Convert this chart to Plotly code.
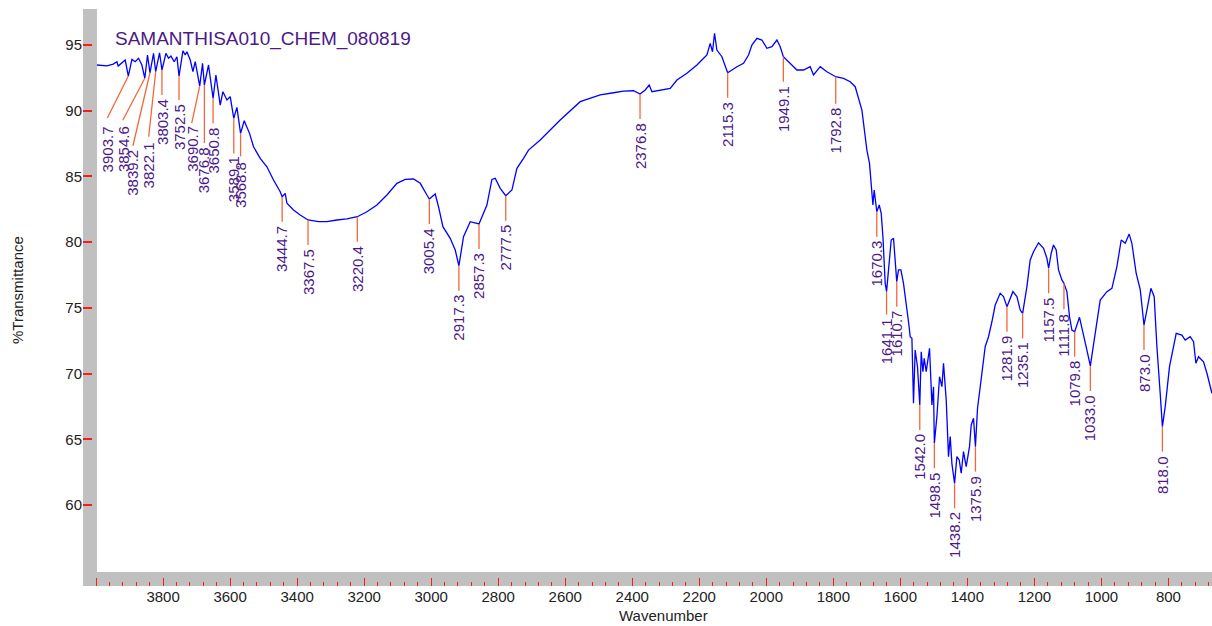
import plotly.graph_objects as go

# ---------------- data ----------------
wavenumber = [
    3997.4, 3967.6, 3948.8, 3937.8, 3933.9, 3913.0, 3903.7, 3893.0, 3883.2, 3873.3,
    3863.2, 3854.6, 3846.5, 3839.2, 3828.5, 3822.1, 3810.6, 3803.4, 3791.5, 3783.8,
    3776.6, 3766.8, 3758.7, 3752.5, 3740.8, 3733.9, 3728.9, 3719.0, 3711.0, 3704.1,
    3690.7, 3682.3, 3676.8, 3664.4, 3650.8, 3642.4, 3629.5, 3621.5, 3609.5, 3599.7,
    3589.1, 3579.7, 3568.8, 3557.9, 3542.1, 3530.1, 3510.2, 3490.2, 3470.5, 3450.5,
    3444.7, 3435.6, 3430.5, 3410.8, 3390.8, 3367.5, 3336.2, 3311.1, 3281.3, 3251.5,
    3220.4, 3191.8, 3161.9, 3132.1, 3102.3, 3077.5, 3052.7, 3032.7, 3012.7, 3005.4,
    2988.0, 2978.1, 2965.0, 2943.2, 2928.3, 2917.3, 2903.5, 2883.5, 2857.3, 2833.7,
    2818.8, 2808.9, 2794.0, 2777.5, 2759.1, 2744.2, 2724.5, 2709.5, 2674.6, 2615.0,
    2555.3, 2525.4, 2495.6, 2455.9, 2426.1, 2396.2, 2376.8, 2361.3, 2349.4, 2341.3,
    2316.5, 2286.7, 2266.7, 2236.9, 2207.0, 2177.2, 2167.4, 2160.5, 2154.5, 2147.4,
    2132.5, 2115.3, 2087.7, 2067.9, 2053.0, 2043.0, 2028.0, 2013.1, 1998.1, 1983.3,
    1968.3, 1958.5, 1949.1, 1933.7, 1908.7, 1889.0, 1869.0, 1859.1, 1839.1, 1819.1,
    1792.8, 1769.6, 1749.6, 1734.7, 1714.7, 1704.8, 1699.8, 1692.0, 1686.9, 1681.9,
    1678.0, 1672.9, 1670.3, 1663.0, 1657.1, 1652.0, 1648.1, 1645.2, 1641.1, 1632.3,
    1627.3, 1620.4, 1615.3, 1610.7, 1605.5, 1598.3, 1590.6, 1580.4, 1575.6, 1570.6,
    1565.5, 1560.7, 1555.8, 1548.8, 1542.0, 1537.7, 1532.7, 1528.8, 1522.8, 1512.9,
    1505.8, 1501.0, 1498.5, 1490.9, 1483.1, 1476.0, 1471.2, 1463.1, 1456.3, 1451.2,
    1446.2, 1438.2, 1431.3, 1424.3, 1418.4, 1411.5, 1403.5, 1393.6, 1388.5, 1381.6,
    1375.9, 1369.7, 1361.7, 1356.6, 1346.8, 1336.9, 1326.8, 1316.9, 1302.0, 1292.2,
    1281.9, 1264.1, 1252.1, 1242.3, 1235.1, 1222.3, 1212.5, 1202.6, 1187.7, 1172.7,
    1162.7, 1157.5, 1149.8, 1143.0, 1134.9, 1128.0, 1117.9, 1111.8, 1103.0, 1095.2,
    1088.1, 1079.8, 1065.4, 1053.5, 1043.3, 1033.0, 1018.5, 1003.6, 983.6, 968.7,
    953.8, 940.9, 929.0, 917.1, 909.1, 896.3, 884.0, 873.0, 862.3, 852.3,
    842.5, 834.4, 824.6, 818.0, 809.6, 796.8, 776.8, 759.8, 749.9, 735.0,
    725.1, 718.0, 710.2, 695.3, 685.1, 670.2,
]
transmittance = [
    93.48, 93.42, 93.55, 93.73, 93.40, 93.86, 92.64, 93.91, 93.73, 93.99,
    93.48, 92.47, 94.24, 92.89, 94.37, 92.97, 94.41, 93.10, 94.37, 93.99,
    94.16, 93.73, 94.11, 92.64, 94.56, 94.24, 94.49, 93.86, 92.97, 93.73,
    91.88, 93.61, 91.96, 93.48, 90.94, 92.72, 90.43, 91.45, 90.82, 91.07,
    89.42, 90.26, 88.28, 89.24, 88.28, 87.26, 86.38, 85.74, 84.73, 83.84,
    83.46, 83.72, 82.96, 82.45, 82.07, 81.69, 81.56, 81.56, 81.69, 81.77,
    81.94, 82.32, 82.83, 83.59, 84.48, 84.78, 84.81, 84.48, 83.59, 83.29,
    83.67, 82.70, 81.18, 80.30, 79.41, 78.21, 80.42, 81.56, 81.39, 82.83,
    84.78, 84.86, 84.10, 83.54, 83.97, 85.62, 86.38, 87.01, 87.77, 89.29,
    90.69, 90.94, 91.20, 91.37, 91.50, 91.52, 91.27, 91.58, 91.96, 91.45,
    91.58, 91.70, 92.34, 92.85, 93.48, 94.24, 95.13, 94.49, 95.89, 94.62,
    94.11, 92.89, 93.35, 93.61, 94.24, 95.00, 95.51, 95.38, 94.75, 94.87,
    95.38, 94.87, 94.11, 93.73, 93.10, 93.10, 93.35, 92.72, 93.35, 92.97,
    92.59, 92.46, 92.21, 91.83, 90.05, 88.02, 87.01, 86.00, 84.48, 82.83,
    83.97, 82.45, 82.32, 82.83, 82.20, 80.42, 78.65, 76.87, 76.24, 78.65,
    80.17, 80.30, 78.65, 77.00, 77.89, 77.89, 76.87, 75.10, 73.95, 72.81,
    72.69, 67.75, 71.80, 70.53, 67.62, 71.67, 70.15, 71.17, 70.15, 71.93,
    67.62, 69.01, 64.71, 66.73, 69.77, 69.01, 70.79, 68.00, 63.69, 65.21,
    63.18, 61.66, 63.69, 63.44, 62.43, 64.07, 62.93, 64.45, 66.10, 66.61,
    64.45, 67.37, 68.76, 70.03, 72.05, 72.81, 73.95, 75.22, 76.11, 75.86,
    75.10, 76.24, 75.86, 74.84, 74.59, 76.62, 78.65, 79.28, 79.96, 79.54,
    78.78, 78.02, 79.16, 79.79, 79.41, 77.89, 77.13, 76.87, 76.24, 74.34,
    73.32, 73.19, 74.29, 73.07, 71.80, 70.59, 73.07, 75.60, 76.24, 76.49,
    78.14, 80.17, 79.92, 80.62, 79.92, 77.64, 76.37, 73.70, 75.10, 76.49,
    75.86, 72.05, 68.51, 65.97, 67.49, 70.53, 73.07, 72.94, 72.56, 72.81,
    72.43, 70.79, 71.29, 70.91, 70.03, 68.51,
]

peak_wn = [3903.7, 3854.6, 3839.2, 3822.1, 3803.4, 3752.5, 3690.7, 3676.8, 3650.8,
           3589.1, 3568.8, 3444.7, 3367.5, 3220.4, 3005.4, 2917.3, 2857.3, 2777.5,
           2376.8, 2115.3, 1949.1, 1792.8, 1670.3, 1641.1, 1610.7, 1542.0, 1498.5,
           1438.2, 1375.9, 1281.9, 1235.1, 1157.5, 1111.8, 1079.8, 1033.0, 873.0, 818.0]
peak_t = [92.64, 92.47, 92.89, 92.97, 93.10, 92.64, 91.88, 91.96, 90.94,
          89.42, 88.28, 83.46, 81.69, 81.94, 83.29, 78.21, 81.39, 83.54,
          91.27, 92.89, 94.11, 92.59, 82.32, 76.24, 77.00, 67.62, 64.71,
          61.66, 64.45, 75.10, 74.59, 78.02, 76.87, 73.19, 70.59, 73.70, 65.97]

x_tick_vals = [4000, 3800, 3600, 3400, 3200, 3000, 2800, 2600, 2400, 2200, 2000,
               1800, 1600, 1400, 1200, 1000, 800]
x_tick_text = ["", "3800", "3600", "3400", "3200", "3000", "2800", "2600", "2400",
               "2200", "2000", "1800", "1600", "1400", "1200", "1000", "800"]
y_tick_vals = [60, 65, 70, 75, 80, 85, 90, 95]

title_text = "SAMANTHISA010_CHEM_080819"

# ---------------- layout / styling ----------------
W, H = 1212, 626
ML, MR, MT, MB = 83, 0, 9, 40
PW, PH = W - ML - MR, H - MT - MB
XR = [4039, 670]
YR = [53.85, 97.74]
wn_per_px = (XR[0] - XR[1]) / PW
t_per_px = (YR[1] - YR[0]) / PH

# label placement: horizontal offset (px), drop of leader line (px), gap to text (px)
default_place = (0, 25, 3)
label_place = {
    3903.7: (-21, 42, 7), 3854.6: (-22, 42, 5), 3839.2: (-17, 73, 3),
    3822.1: (-7, 65, 5), 3803.4: (0, 25, 3), 3752.5: (0, 24, 3),
    3690.7: (-8, 37, 2), 3676.8: (0, 58, 3), 3650.8: (0, 25, 3),
    3589.1: (0, 35, 2), 3568.8: (0, 23, 5), 1641.1: (0, 23, 3),
    1111.8: (0, 26, 3), 1792.8: (0, 27, 3),
}

LABEL_COLOR = "#4B1987"
LEADER_COLOR = "#F2683C"
TICK_COLOR = "#FF1A1A"
FONT = "Liberation Sans, Arial, sans-serif"

fig = go.Figure()
fig.add_trace(go.Scatter(x=wavenumber, y=transmittance, mode="lines",
                         line=dict(color="#0000FF", width=1.3),
                         hoverinfo="skip", showlegend=False))

shapes = [
    dict(type="rect", xref="paper", yref="paper", x0=0, x1=14 / PW, y0=0, y1=1,
         fillcolor="#C0C0C0", line=dict(width=0), layer="below"),
    dict(type="rect", xref="paper", yref="paper", x0=0, x1=1, y0=0, y1=14 / PH,
         fillcolor="#C0C0C0", line=dict(width=0), layer="below"),
]
annotations = []
for wn, t in zip(peak_wn, peak_t):
    dx, drop, gap = label_place.get(wn, default_place)
    xe = wn - dx * wn_per_px
    ye = t - drop * t_per_px
    shapes.append(dict(type="line", xref="x", yref="y", x0=wn, y0=t, x1=xe, y1=ye,
                       line=dict(color=LEADER_COLOR, width=1.3)))
    annotations.append(dict(x=xe, y=ye, xref="x", yref="y", text=f"{wn:.1f}",
                            textangle=-90, showarrow=False, xanchor="center",
                            yanchor="top", yshift=-gap, borderpad=0,
                            font=dict(family=FONT, size=15, color=LABEL_COLOR)))

annotations += [
    dict(x=(113 - ML) / PW, y=(H - MB - 39) / PH, xref="paper", yref="paper",
         text=title_text, showarrow=False, xanchor="left", yanchor="middle",
         font=dict(family=FONT, size=19, color=LABEL_COLOR)),
    dict(x=(663 - ML) / PW, y=(H - MB - 615) / PH, xref="paper", yref="paper",
         text="Wavenumber", showarrow=False, xanchor="center", yanchor="middle",
         font=dict(family=FONT, size=15, color="#222222")),
    dict(x=(17 - ML) / PW, y=(H - MB - 290) / PH, xref="paper", yref="paper",
         text="%Transmittance", showarrow=False, textangle=-90,
         xanchor="center", yanchor="middle",
         font=dict(family=FONT, size=15, color="#222222")),
]

fig.update_layout(
    width=W, height=H, margin=dict(l=ML, r=MR, t=MT, b=MB, autoexpand=False),
    paper_bgcolor="white", plot_bgcolor="white",
    shapes=shapes, annotations=annotations, showlegend=False,
    font=dict(family=FONT, size=15, color="#222222"),
    xaxis=dict(range=XR, tickmode="array", tickvals=x_tick_vals, ticktext=x_tick_text,
               ticks="inside", ticklen=8, tickwidth=1.3, tickcolor=TICK_COLOR,
               showgrid=False, zeroline=False, showline=False,
               tickfont=dict(family=FONT, size=15, color="#222222"),
               minor=dict(tickmode="linear", tick0=0, dtick=40, ticks="inside",
                          ticklen=4, tickwidth=1.3, tickcolor=TICK_COLOR, showgrid=False)),
    yaxis=dict(range=YR, tickmode="array", tickvals=y_tick_vals,
               ticks="inside", ticklen=9, tickwidth=1.5, tickcolor=TICK_COLOR,
               showgrid=False, zeroline=False, showline=False,
               tickfont=dict(family=FONT, size=15, color="#222222")),
)

fig.write_html("out.html", config={"displayModeBar": False},
               post_script="document.body.style.margin='0px';"
                           "document.body.style.overflow='hidden';")
